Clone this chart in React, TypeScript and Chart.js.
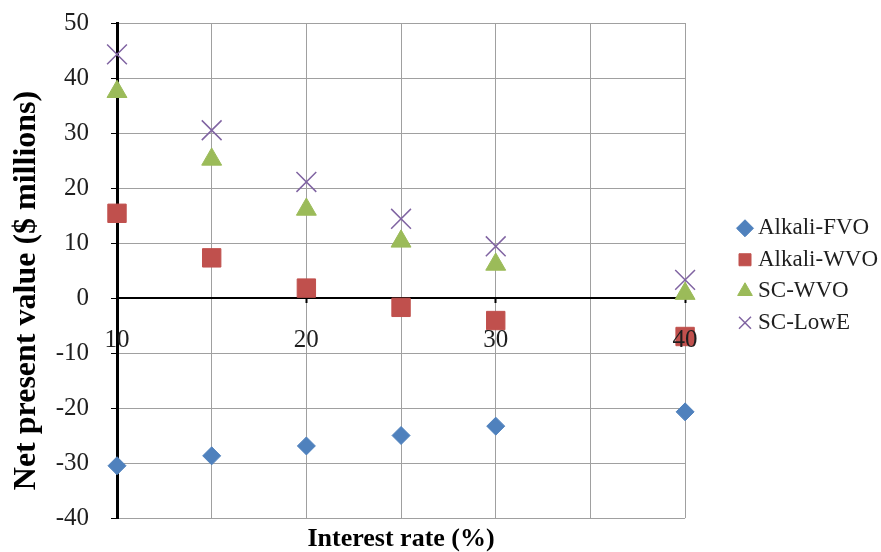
import { useEffect, useRef } from 'react';
import { Chart, registerables } from 'chart.js';

Chart.register(...registerables);

// Interest rate (%) on the x axis
const interestRates = [10, 15, 20, 25, 30, 40];

// Net present value ($ millions) per process
const alkaliFvo = [-30.5, -28.7, -26.9, -25.0, -23.3, -20.7];
const alkaliWvo = [15.4, 7.3, 1.8, -1.7, -4.1, -7.0];
const scWvo = [37.5, 25.2, 16.1, 10.3, 6.1, 0.8];
const scLowE = [44.3, 30.5, 21.1, 14.4, 9.4, 3.3];

const seriesNames = ['Alkali-FVO', 'Alkali-WVO', 'SC-WVO', 'SC-LowE'];

const xTitle = 'Interest rate (%)';
// trailing spaces nudge the centred vertical title towards the bottom
const yTitle = 'Net present value ($ millions)     ';

const SERIF = '"Liberation Serif", "Times New Roman", serif';
const GRID = '#a0a0a0';
const TEXT = '#1e1e1e';

const toPoints = (ys: number[]) => interestRates.map((x, i) => ({ x, y: ys[i] }));

export default function App() {
  const canvasRef = useRef<HTMLCanvasElement | null>(null);

  useEffect(() => {
    const canvas = canvasRef.current;
    if (!canvas) return;

    const chart = new Chart(canvas, {
      type: 'scatter',
      data: {
        datasets: [
          {
            label: seriesNames[0],
            data: toPoints(alkaliFvo),
            pointStyle: 'rectRot',
            pointRadius: 9,
            backgroundColor: '#4F81BD',
            borderColor: '#4F81BD',
            borderWidth: 1,
            clip: false,
          },
          {
            label: seriesNames[1],
            data: toPoints(alkaliWvo),
            pointStyle: 'rect',
            pointRadius: 13,
            backgroundColor: '#C0504D',
            borderColor: '#C0504D',
            borderWidth: 1,
            clip: false,
          },
          {
            label: seriesNames[2],
            data: toPoints(scWvo),
            pointStyle: 'triangle',
            pointRadius: 11.5,
            backgroundColor: '#9BBB59',
            borderColor: '#9BBB59',
            borderWidth: 1,
            clip: false,
          },
          {
            label: seriesNames[3],
            data: toPoints(scLowE),
            pointStyle: 'crossRot',
            pointRadius: 14,
            backgroundColor: '#8064A2',
            borderColor: '#8064A2',
            borderWidth: 1.5,
            clip: false,
          },
        ],
      },
      options: {
        responsive: false,
        animation: false,
        layout: { padding: { top: 23, right: -1, left: 0, bottom: 0 } },
        plugins: {
          tooltip: { enabled: false },
          legend: {
            position: 'right',
            fullSize: false,
            // empty title used only as a small top offset for the entries
            title: {
              display: true,
              text: '',
              font: { family: SERIF, size: 1, lineHeight: 1 },
              padding: { top: 9, bottom: 0 },
            },
            labels: {
              usePointStyle: true,
              boxWidth: 3,
              boxHeight: 12,
              padding: 8.5,
              color: TEXT,
              font: { family: SERIF, size: 23 },
            },
          },
        },
        scales: {
          x: {
            type: 'linear',
            position: 'bottom',
            min: 10,
            max: 40,
            ticks: { display: false, stepSize: 5 },
            grid: { color: GRID, lineWidth: 1, drawTicks: false },
            border: { display: false },
            title: {
              display: true,
              text: xTitle,
              color: '#000',
              font: { family: SERIF, size: 26, weight: 'bold', lineHeight: 1 },
              padding: { top: 0, bottom: 0 },
            },
            afterFit: (s: any) => {
              s.height = 34;
            },
          },
          // axis line through zero carrying the interest-rate labels
          x2: {
            type: 'linear',
            position: { y: 0 },
            min: 10,
            max: 40,
            ticks: {
              stepSize: 10,
              color: TEXT,
              font: { family: SERIF, size: 25 },
              padding: 23,
              maxRotation: 0,
              autoSkip: false,
              z: 1,
            },
            grid: {
              display: true,
              drawOnChartArea: false,
              drawTicks: true,
              tickLength: 4,
              tickWidth: 2,
              tickColor: '#000',
            },
            border: { display: true, color: '#000', width: 2 },
          },
          y: {
            type: 'linear',
            position: 'left',
            min: -40,
            max: 50,
            ticks: {
              stepSize: 10,
              color: TEXT,
              font: { family: SERIF, size: 25 },
              padding: 22,
            },
            grid: {
              color: GRID,
              lineWidth: 1,
              tickColor: '#000',
              tickLength: 6,
              tickWidth: 1,
            },
            border: { display: true, color: '#000', width: 3 },
            title: {
              display: true,
              text: yTitle,
              color: '#000',
              font: { family: SERIF, size: 32, weight: 'bold' },
              padding: { top: 8, bottom: 0 },
            },
            afterFit: (s: any) => {
              s.width = 117;
              // the end labels may overhang the plot; keep the plot edges fixed
              s.paddingTop = 0;
              s.paddingBottom = 0;
            },
          },
          // spacer between the plot and the legend
          yr: {
            type: 'linear',
            position: 'right',
            display: true,
            grid: { display: false },
            border: { display: false },
            ticks: { display: false },
            afterFit: (s: any) => {
              s.width = 49.9;
            },
          },
        },
      },
    } as any);

    return () => chart.destroy();
  }, []);

  return (
    <div style={{ position: 'fixed', left: 0, top: 0, width: 881, height: 552, background: '#fff' }}>
      <canvas ref={canvasRef} width={881} height={552} />
    </div>
  );
}
